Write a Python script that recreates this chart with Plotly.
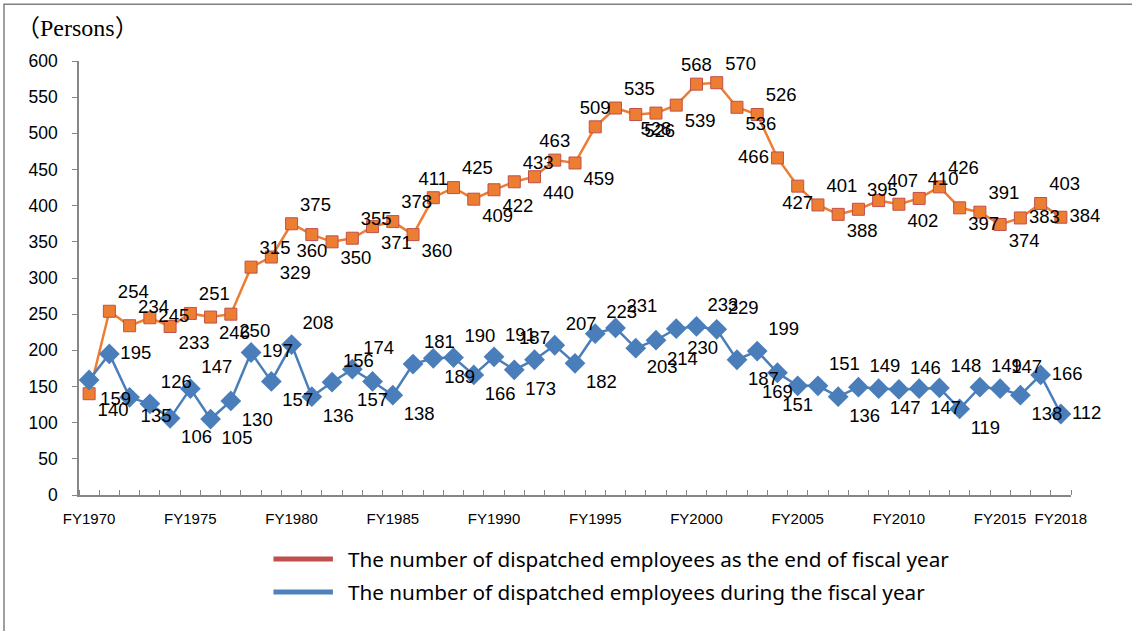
import plotly.graph_objects as go

years = list(range(1970, 2019))

# end of fiscal year (orange) and during fiscal year (blue)
end_of_year = [140, 254, 234, 245, 233, 251, 246, 250, 315, 329,
               375, 360, 350, 355, 371, 378, 360, 411, 425, 409,
               422, 433, 440, 463, 459, 509, 535, 526, 528, 539,
               568, 570, 536, 526, 466, 427, 401, 388, 395, 407,
               402, 410, 426, 397, 391, 374, 383, 403, 384]
during_year = [159, 195, 135, 126, 106, 147, 105, 130, 197, 157,
               208, 136, 156, 174, 157, 138, 181, 189, 190, 166,
               191, 173, 187, 207, 182, 223, 231, 203, 214, 230,
               233, 229, 187, 199, 169, 151, 151, 136, 149, 147,
               146, 147, 148, 119, 149, 147, 138, 166, 112]

tick_years = [1970, 1975, 1980, 1985, 1990, 1995, 2000, 2005, 2010, 2015, 2018]
tick_labels = ["FY1970", "FY1975", "FY1980", "FY1985", "FY1990", "FY1995",
               "FY2000", "FY2005", "FY2010", "FY2015", "FY2018"]

name_end = "The number of dispatched employees as the end of fiscal year"
name_during = "The number of dispatched employees during the fiscal year"

TR, BR, MR, TC, BC, ML = "top right", "bottom right", "middle right", "top center", "bottom center", "middle left"

pos_end = [BR, TR, TR, MR, BR, TR, BR, BR, TR, BR,
           TR, BC, BR, TR, BR, TR, BR, TC, TR, BR,
           BR, TR, BR, TC, BR, TC, TR, BR, BC, BR,
           TC, TR, BR, TR, ML, BC, TR, BR, TR, TR,
           BR, TR, TR, BR, TR, BR, MR, TR, MR]
pos_during = [BR, MR, BR, TR, BR, TR, BR, BR, MR, BR,
              TR, BR, TR, TR, BC, BR, TR, BR, TR, BR,
              TR, BR, TC, TR, BR, TR, TR, BR, BR, BR,
              TR, TR, BR, TR, BC, BC, TR, BR, TR, BR,
              TR, BR, TR, BR, TR, TR, BR, MR, MR]

label_font = dict(family="Liberation Sans", size=18.5, color="#000000")

fig = go.Figure()

fig.add_trace(go.Scatter(
    x=years, y=end_of_year, mode="lines+markers+text", name=name_end,
    line=dict(color="#ED7D31", width=2.5),
    marker=dict(symbol="square", size=12, color="#ED7D31",
                line=dict(color="#C0504D", width=1)),
    texttemplate="%{y}", textposition=pos_end, textfont=label_font,
    showlegend=False, cliponaxis=False))

fig.add_trace(go.Scatter(
    x=years, y=during_year, mode="lines+markers+text", name=name_during,
    line=dict(color="#4A7EBB", width=2.5),
    marker=dict(symbol="diamond", size=16, color="#4A7EBB"),
    texttemplate="%{y}", textposition=pos_during, textfont=label_font,
    showlegend=False, cliponaxis=False))

# legend drawn by hand: the original uses longer keys and different colours
legend_font = dict(family="Noto Sans", size=20.7, color="#000000")
legend_rows = [(name_end, "#C0504D", -0.1475), (name_during, "#4F81BD", -0.2235)]
for label, colour, ypos in legend_rows:
    fig.add_shape(type="line", xref="paper", yref="paper",
                  x0=0.196, x1=0.256, y0=ypos, y1=ypos,
                  line=dict(color=colour, width=5))
    fig.add_annotation(text=label, xref="paper", yref="paper",
                       x=0.269, y=ypos, xanchor="left", yanchor="middle",
                       showarrow=False, font=legend_font)

paren = "<span style='font-family:Noto Sans CJK JP'>%s</span>"
fig.add_annotation(text=paren % "（" + "Persons" + paren % "）",
                   xref="paper", yref="paper",
                   x=-0.066, y=1.081, xanchor="left", yanchor="middle",
                   showarrow=False,
                   font=dict(family="Liberation Serif", size=24, color="#000000"))

fig.add_shape(type="rect", xref="paper", yref="paper",
              x0=-0.0756, x1=1.08, y0=-0.4, y1=1.131,
              line=dict(color="#7F7F7F", width=1.5))

fig.update_xaxes(
    range=[1969.5, 2018.5], tickmode="array", tickvals=tick_years, ticktext=tick_labels,
    ticks="", showline=True, linecolor="#868686", linewidth=1.5, showgrid=False,
    zeroline=False, ticklabelstandoff=9,
    tickfont=dict(family="Liberation Sans Narrow, Liberation Sans", size=15, color="#000000"),
    minor=dict(tickmode="linear", tick0=1969.5, dtick=1, ticks="inside",
               ticklen=5, tickcolor="#868686", tickwidth=1.2))

fig.update_yaxes(
    range=[0, 600], dtick=50, ticks="outside", ticklen=5, tickcolor="#868686",
    showline=True, linecolor="#868686", linewidth=1.5, showgrid=False,
    zeroline=False, ticklabelstandoff=11,
    tickfont=dict(family="Liberation Sans", size=17.5, color="#000000"))

fig.update_layout(
    width=1132, height=631,
    margin=dict(l=79, r=61, t=61, b=136, autoexpand=False),
    paper_bgcolor="#FFFFFF", plot_bgcolor="#FFFFFF",
    showlegend=False,
)

# the default page adds an 8px body margin; drop it so the figure fills the window
fig.write_html("out.html", config={"displayModeBar": False},
               post_script="document.body.style.margin = '0';")
